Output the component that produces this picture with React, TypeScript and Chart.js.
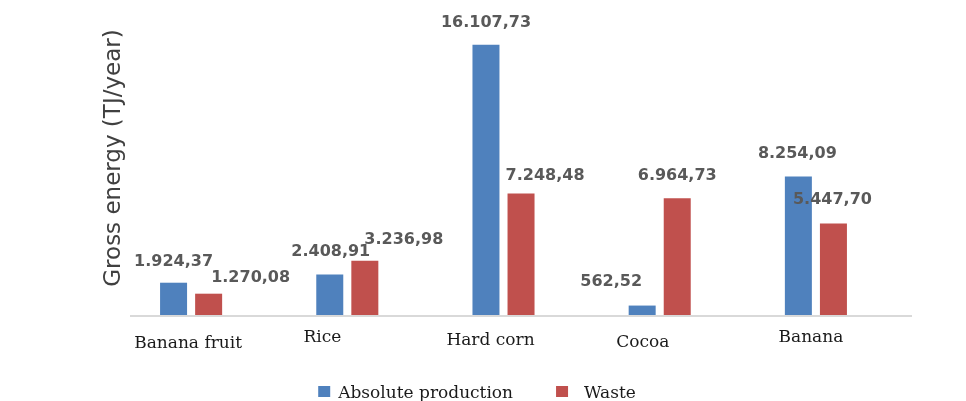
import React, { useEffect, useRef } from "react";
import { Chart, registerables } from "chart.js";

Chart.register(...registerables);

// Crops and their gross energy (TJ/year)
const categories = ["Banana fruit", "Rice", "Hard corn", "Cocoa", "Banana"];
const absoluteProduction = [1924.37, 2408.91, 16107.73, 562.52, 8254.09];
const waste = [1270.08, 3236.98, 7248.48, 6964.73, 5447.7];
const seriesNames = ["Absolute production", "Waste"];
const seriesColors = ["#4F81BD", "#C0504D"];
const axisTitle = "Gross energy (TJ/year)";
const yMax = 18000;

// Per-bar label nudges [dx, dy] in px, one row per series
const valueLabelNudges = [
  [[0, 0], [1, -2], [0, -1], [-31, -3], [-1, -2]],
  [[42, 5], [39, 0], [24, 3], [0, -1], [-1, -3]],
];
// Category label nudges [dx, baseline offset below the axis]
const categoryLabelNudges = [[-3, 33], [-25, 27], [-13, 30], [-17, 32], [-5, 27]];

// 16107.73 -> "16.107,73"
function fmt(v: number): string {
  const [i, d] = v.toFixed(2).split(".");
  return i.replace(/\B(?=(\d{3})+(?!\d))/g, ".") + "," + d;
}

const annotate = {
  id: "annotate",
  afterDatasetsDraw(chart: any) {
    const ctx = chart.ctx as CanvasRenderingContext2D;
    const area = chart.chartArea;
    ctx.save();

    // baseline
    ctx.strokeStyle = "#d9d9d9";
    ctx.lineWidth = 2;
    ctx.beginPath();
    ctx.moveTo(area.left + 17, area.bottom + 1);
    ctx.lineTo(area.right + 18, area.bottom + 1);
    ctx.stroke();

    // value labels
    ctx.font = "bold 16px 'DejaVu Sans'";
    ctx.fillStyle = "#595959";
    ctx.textAlign = "center";
    ctx.textBaseline = "middle";
    chart.data.datasets.forEach((ds: any, di: number) => {
      const meta = chart.getDatasetMeta(di);
      meta.data.forEach((bar: any, i: number) => {
        const [dx, dy] = valueLabelNudges[di][i];
        ctx.fillText(fmt(ds.data[i]), bar.x + dx, bar.y - 21 + dy);
      });
    });

    // category labels
    const xs = chart.scales.x;
    ctx.font = "17px 'DejaVu Serif'";
    ctx.fillStyle = "#1a1a1a";
    ctx.textBaseline = "alphabetic";
    categories.forEach((c, i) => {
      const [dx, dy] = categoryLabelNudges[i];
      ctx.fillText(c, xs.getPixelForValue(i) + dx, area.bottom + dy);
    });

    // y axis title
    ctx.save();
    ctx.translate(area.left + 1, (area.top + area.bottom) / 2 - 6);
    ctx.rotate(-Math.PI / 2);
    ctx.font = "23px 'DejaVu Sans'";
    ctx.fillStyle = "#404040";
    ctx.textAlign = "center";
    ctx.textBaseline = "middle";
    ctx.fillText(axisTitle, 0, 0);
    ctx.restore();

    // legend
    ctx.font = "17px 'DejaVu Serif'";
    ctx.textAlign = "left";
    ctx.textBaseline = "alphabetic";
    const box = 12;
    const gaps = [8, 16];
    const spacing = 43;
    const widths = seriesNames.map((n) => ctx.measureText(n).width);
    const total =
      widths.reduce((s, w, i) => s + box + gaps[i] + w, 0) + spacing * (seriesNames.length - 1);
    let x = chart.width / 2 - 6 - total / 2;
    seriesNames.forEach((n, i) => {
      ctx.fillStyle = seriesColors[i];
      ctx.fillRect(x, 386, box, 11);
      ctx.fillStyle = "#1a1a1a";
      ctx.fillText(n, x + box + gaps[i], 398);
      x += box + gaps[i] + widths[i] + spacing;
    });

    ctx.restore();
  },
};

export default function App() {
  const ref = useRef<HTMLCanvasElement>(null);

  useEffect(() => {
    if (!ref.current) return;
    const chart = new Chart(ref.current, {
      type: "bar",
      data: {
        labels: categories,
        datasets: [
          {
            label: seriesNames[0],
            data: absoluteProduction,
            backgroundColor: seriesColors[0],
            categoryPercentage: 0.449,
            barPercentage: 0.77,
          },
          {
            label: seriesNames[1],
            data: waste,
            backgroundColor: seriesColors[1],
            categoryPercentage: 0.449,
            barPercentage: 0.77,
          },
        ],
      },
      options: {
        responsive: false,
        animation: false,
        devicePixelRatio: 1,
        layout: { padding: { left: 113, right: 72, top: 13, bottom: 95 } },
        plugins: { legend: { display: false }, tooltip: { enabled: false } },
        scales: {
          x: { display: false },
          y: { display: false, min: 0, max: yMax },
        },
      },
      plugins: [annotate],
    });
    return () => chart.destroy();
  }, []);

  return (
    <div style={{ position: "fixed", left: 0, top: 0, width: 966, height: 410, background: "#fff" }}>
      <canvas ref={ref} width={966} height={410} style={{ width: 966, height: 410 }} />
    </div>
  );
}
